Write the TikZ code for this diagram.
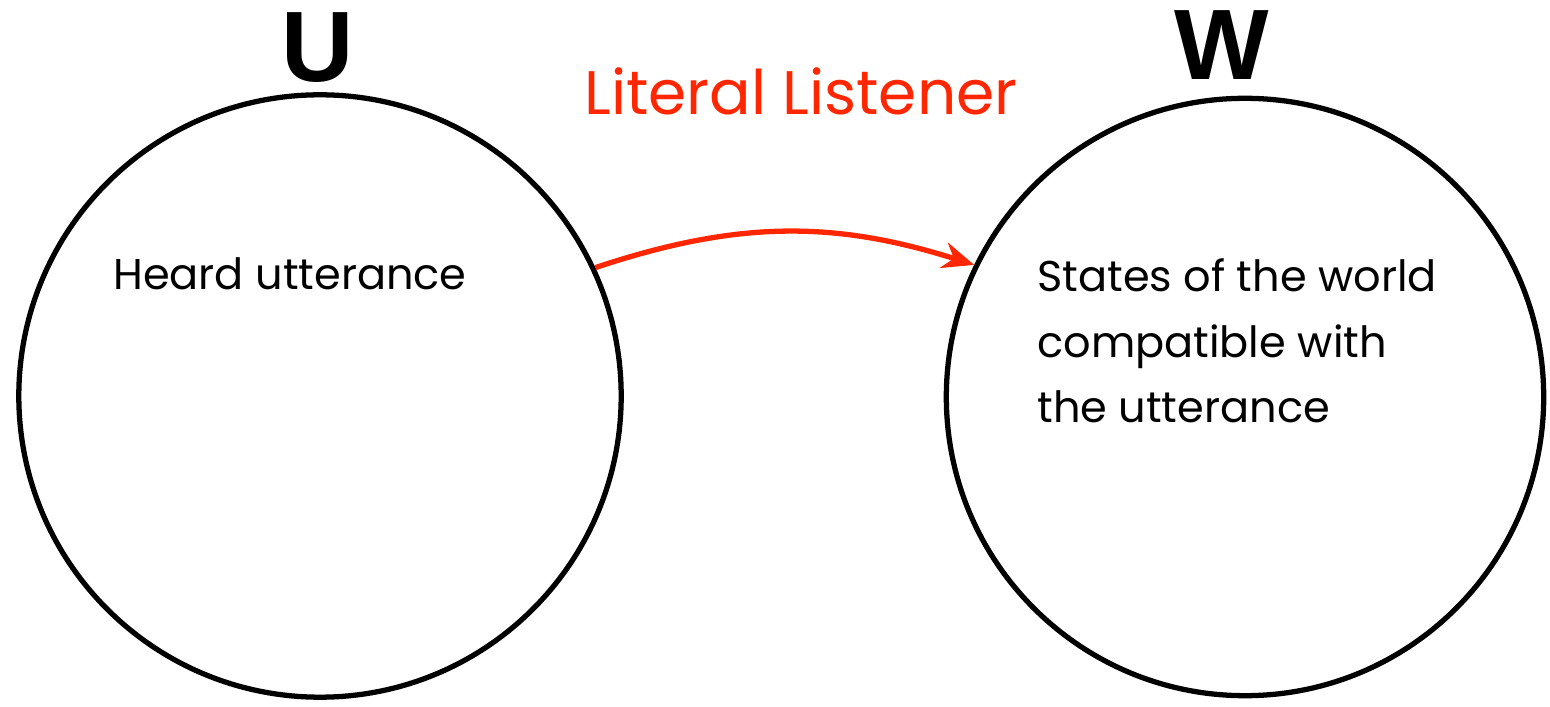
\documentclass[tikz,border=0pt]{standalone}
\usepackage{fontspec}
\setmainfont{Poppins}
\newfontfamily\heavyfont{Liberation Sans}
\usetikzlibrary{arrows.meta}
\definecolor{listenred}{RGB}{255,38,0}

\begin{document}
\begin{tikzpicture}[x=0.02cm,y=0.02cm,
  set/.style={circle, draw, line width=3pt, inner sep=0pt},
  setname/.style={font=\heavyfont\bfseries\fontsize{57}{57}\selectfont, inner sep=0pt},
  txt/.style={font=\fontsize{24.5}{37.4}\selectfont, inner sep=0pt, align=left}]
\useasboundingbox (0,0) rectangle (1550,706);
% the two sets
\node[set, minimum size=12.05cm] (U) at (320,310) {};
\node[set, minimum size=11.95cm] (W) at (1245,309) {};
\node[setname] (Uname) at (318,658) {U};
\node[setname] (Wname) at (1222,661) {W};
% title
\node[font=\fontsize{35}{35}\selectfont, text=listenred, inner sep=0pt, anchor=base] (title) at (801,591) {Literal Listener};
% contents
\node[txt, anchor=base west] (heard) at (113,416) {Heard utterance};
\node[txt, anchor=base west] (states) at (1037,283) {States of the world\\compatible with\\the utterance};
% the listener map
\draw[listenred, line width=3pt, -{Stealth[length=18pt, width=15pt]}] (U.25) to[bend left=18] (W.154);
\end{tikzpicture}
\end{document}
